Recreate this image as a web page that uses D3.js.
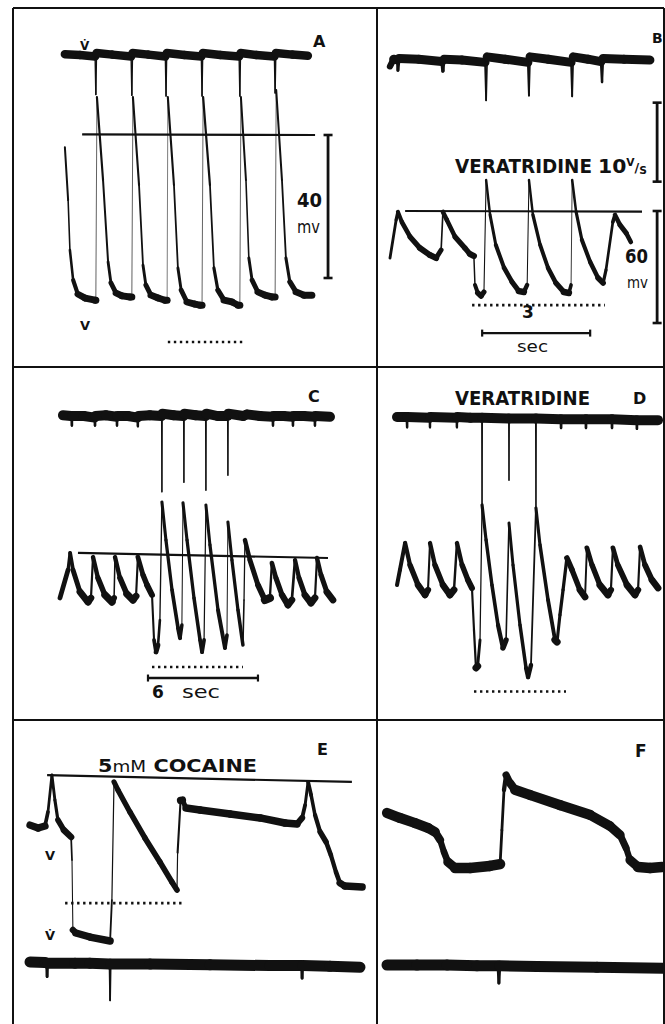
<!DOCTYPE html>
<html>
<head>
<meta charset="utf-8">
<script src="https://cdn.jsdelivr.net/npm/d3@7"></script>
<style>
  body { margin: 0; background: #fff; }
  svg { display: block; }
  text { font-family: "DejaVu Sans", "Liberation Sans", Arial, sans-serif; fill: #111; }
</style>
</head>
<body>
<div id="fig"></div>
<script>

// ---- values: t in sec, V in mV, dV/dt in V/s

// panel A
var aVolt = [[0.08,-3.4],[0.17,-18.2],[0.22,-32.2],[0.31,-40.6],[0.44,-44.5],[0.64,-45.6],[0.92,-46.2],
  [0.94,-46.2],[0.97,10.6],[1.14,-12.6],[1.28,-35.5],[1.36,-41.4],[1.5,-44.2],[1.67,-45],[1.89,-45.3],
  [1.94,-45.3],[1.97,10.6],[2.14,-14],[2.25,-36.4],[2.33,-42],[2.47,-44.8],[2.67,-45.6],[2.86,-46.2],
  [2.92,-46.2],[2.94,10.6],[3.11,-14],[3.22,-37.2],[3.31,-43.4],[3.47,-46.7],[3.69,-47.3],[3.83,-47.6],
  [3.89,-47.6],[3.92,10.6],[4.11,-14],[4.22,-37.2],[4.33,-43.4],[4.5,-46.2],[4.72,-46.7],[4.89,-47.6],
  [4.94,-47.6],[4.97,10.6],[5.11,-12.6],[5.19,-34.4],[5.28,-40.6],[5.44,-43.9],[5.64,-44.8],[5.83,-45.3],
  [5.92,-45.3],[5.95,12.6],[6.11,-12.6],[6.22,-34.4],[6.33,-41.1],[6.5,-43.9],[6.72,-44.8],[6.94,-44.8]];
var aDvdt = [[0.08,0.1],[0.5,0],[0.92,-0.2],[0.94,-5.0],[0.96,0.25],[1.4,0.05],[1.92,-0.2],[1.94,-5.1],[1.96,0.25],
  [2.4,0.05],[2.87,-0.2],[2.89,-5.2],[2.91,0.25],[3.4,0],[3.87,-0.2],[3.89,-5.2],[3.91,0.25],[4.4,0],
  [4.92,-0.2],[4.94,-5.2],[4.96,0.25],[5.4,0],[5.9,-0.2],[5.92,-4.8],[5.94,0.25],[6.4,0.05],[6.83,-0.1]];
var aZero = [[0.56,0.2],[7.03,0]];
var aDots = [2.94, 5.08, -57.9];

// panel B
var bVolt = [[0,-25.2],[0.17,-4.8],[0.22,-0.5],[0.33,-5.9],[0.56,-13.9],[0.83,-19.8],[1.11,-23.6],[1.28,-25.2],
  [1.42,-20.9],[1.47,-0.5],[1.58,-4.8],[1.81,-13.9],[2.08,-19.8],[2.22,-23],[2.33,-24.1],[2.36,-39.6],[2.44,-43.9],
  [2.53,-45.5],[2.61,-43.4],[2.67,16.6],[2.78,-2.1],[2.94,-18.2],[3.17,-30.5],[3.39,-38],[3.58,-42.9],[3.72,-43.4],
  [3.81,-39.6],[3.86,16.6],[3.97,-2.1],[4.17,-18.2],[4.39,-30.5],[4.61,-38.6],[4.83,-43.4],[4.97,-43.9],[5.03,-39.6],
  [5.06,16.6],[5.17,-0.5],[5.33,-15.5],[5.56,-27.3],[5.78,-35.9],[5.92,-38.6],[6.0,-31.6],[6.19,-5.9],[6.25,-2.1],
  [6.39,-7.5],[6.56,-11.8],[6.69,-16.6]];
var bDvdt = [[0,-0.8],[0.1,0.1],[0.2,0],[0.22,-1.3],[0.25,0.2],[0.8,0.1],[1.44,-0.2],[1.47,-1.4],[1.5,0.1],[2.0,0],
  [2.64,-0.3],[2.67,-5.1],[2.7,0.4],[3.2,0.1],[3.83,-0.3],[3.86,-4.5],[3.89,0.4],[4.4,0.1],[5.03,-0.3],[5.06,-4.6],
  [5.09,0.4],[5.5,0.1],[5.86,-0.2],[5.89,-2.8],[5.92,0.2],[6.5,0.1],[7.22,0]];
var bZero = [[0.42,0],[7.0,-0.3]];
var bDots = [2.28, 5.97, -50.4];

// panel C
var cVolt = [[0,-23],[0.44,-8],[0.55,1.1],[0.71,-8],[1.09,-19.8],[1.53,-25.2],[1.69,-23],[1.8,-1.1],[2.07,-12.3],
  [2.45,-21.4],[2.84,-25.2],[2.95,-23],[3.0,-1.1],[3.27,-12.3],[3.65,-20.9],[3.98,-24.1],[4.15,-22],[4.25,-1.1],
  [4.53,-10.7],[4.75,-16.1],[5.02,-21.4],[5.13,-45.5],[5.24,-52],[5.35,-48.2],[5.45,-34.8],[5.56,28.4],[5.78,8],
  [6.11,-18.7],[6.44,-39.1],[6.55,-44.5],[6.65,-37.5],[6.71,27.9],[6.93,8],[7.31,-23],[7.64,-45.5],[7.75,-52],
  [7.86,-45.5],[7.96,26.8],[8.18,5.4],[8.62,-29.5],[9.0,-49.8],[9.11,-42.9],[9.16,17.7],[9.38,-2.7],[9.71,-29.5],
  [9.98,-48.2],[10.04,-24.1],[10.09,8],[10.36,-2.7],[10.8,-16.1],[11.18,-24.1],[11.45,-23],[11.56,-4.3],[11.78,-12.3],
  [12.11,-21.4],[12.44,-26.8],[12.65,-24.1],[12.82,-2.7],[13.04,-12.3],[13.36,-21.4],[13.69,-25.7],[13.91,-23],
  [14.02,-1.6],[14.24,-10.7],[14.56,-19.8],[14.89,-24.1]];
var cDvdt = [[0.16,0.1],[0.6,0],[0.63,-0.2],[0.65,-1.2],[0.67,0],[1.3,0],[1.89,-0.2],[1.91,-1.2],[1.93,0],[2.5,0.1],
  [3.09,-0.1],[3.11,-1.2],[3.13,0],[3.7,0],[4.23,-0.2],[4.25,-1.3],[4.27,0],[4.9,0.1],[5.54,0],[5.56,-9.6],[5.58,0.3],
  [6.2,0.1],[6.74,0],[6.76,-8.4],[6.78,0.3],[7.4,0.1],[7.94,0],[7.96,-9.4],[7.98,0.3],[8.6,0],[9.14,0],[9.16,-7.5],
  [9.18,0.3],[10.0,0],[10.2,0.2],[10.9,0],[11.6,-0.1],[11.62,-1.2],[11.64,0],[12.2,0],[12.69,-0.1],[12.71,-1.2],
  [12.73,0],[13.3,0],[13.89,-0.1],[13.91,-1.2],[13.93,0],[14.73,-0.1]];
var cZero = [[0.98,1.1],[14.62,-1.6]];
var cDots = [5.02, 9.98, -60];

// panel D
var dVolt = [[0,-23.6],[0.16,-15.5],[0.44,-1.1],[0.71,-12.9],[1.15,-23.6],[1.53,-28.9],[1.69,-26.2],[1.8,-1.1],
  [2.07,-12.9],[2.51,-23.6],[2.89,-28.9],[3.11,-26.2],[3.27,-1.1],[3.55,-12.9],[3.87,-20.9],[4.09,-25.2],[4.2,-47.7],
  [4.31,-68],[4.4,-67],[4.53,-53],[4.64,19.3],[4.86,0.5],[5.18,-23.6],[5.51,-45],[5.78,-57.3],[5.95,-53],[6.11,9.6],
  [6.33,-12.9],[6.71,-45],[7.04,-68],[7.15,-72.9],[7.31,-66.4],[7.58,17.7],[7.8,-2.1],[8.24,-31.6],[8.62,-53],
  [8.73,-54.1],[8.89,-39.6],[9.06,-26.2],[9.27,-9.1],[9.55,-15.5],[9.98,-26.2],[10.26,-30],[10.36,-3.7],[10.64,-12.9],
  [11.07,-23.6],[11.51,-28.9],[11.67,-26.2],[11.78,-3.7],[12.05,-12.9],[12.55,-23.6],[12.98,-28.9],[13.15,-26.2],
  [13.26,-3.2],[13.53,-12.9],[13.91,-20.9],[14.24,-25.2]];
var dDvdt = [[0,0],[0.5,0],[0.53,-0.2],[0.55,-1.3],[0.57,0],[1.78,-0.1],[1.8,-1.3],[1.82,0],[3.25,-0.1],[3.27,-1.3],
  [3.29,0],[4.0,-0.1],[4.62,-0.1],[4.64,-11.1],[4.66,-0.1],[6.09,-0.2],[6.11,-8],[6.13,-0.2],[7.56,-0.2],[7.58,-12],
  [7.6,-0.2],[8.93,-0.3],[8.95,-1.4],[8.97,-0.3],[10.29,-0.3],[10.31,-1.4],[10.33,-0.3],[11.71,-0.3],[11.73,-1.4],
  [11.75,-0.3],[13.07,-0.4],[13.09,-1.5],[13.11,-0.4],[14.24,-0.4]];
var dDots = [4.2, 9.22, -80.6];

// panel E (5 mM cocaine)
var eVolt = [[0,-25.2],[0.27,-26.8],[0.5,-25.7],[0.6,-18.2],[0.73,1.6],[0.83,-11.8],[0.93,-22.5],[1.13,-27.9],
  [1.37,-31.6],[1.4,-43.9],[1.43,-81.4],[1.53,-83],[2.0,-85.2],[2.67,-87.3],[2.73,-65.4],[2.8,-2.1],[2.93,-6.4],
  [3.33,-18.2],[3.83,-32.1],[4.33,-45],[4.73,-55.7],[4.9,-60],[4.92,-40],[5.02,-12],[5.08,-11.8],[5.2,-16.1],
  [5.67,-17.1],[6.67,-19.3],[7.67,-21.4],[8.5,-24.1],[8.9,-24.6],[9.07,-21.4],[9.17,-14.5],[9.27,-2.1],[9.37,-9.1],
  [9.5,-19.8],[9.67,-28.9],[9.87,-34.3],[10.03,-41.3],[10.2,-50.4],[10.33,-56.2],[10.5,-57.9],[11.07,-58.4]];
var eDvdt = [[0,0.25],[0.5,0.2],[0.55,0.1],[0.57,-1.6],[0.59,0.1],[1.5,0.1],[2.0,0.1],[2.65,0],[2.67,-4.6],
  [2.69,0],[4,0],[6,-0.1],[8,-0.2],[9.05,-0.2],[9.07,-1.8],[9.09,-0.2],[10,-0.3],[11,-0.4]];
var eZero = [[0.57,1.5],[10.73,-2.1]];
var eDots = [1.17, 5.07, -67];

// panel F
var fVolt = [[0,-18.7],[0.43,-21.4],[0.93,-24.1],[1.37,-26.8],[1.6,-28.9],[1.77,-33.2],[1.9,-39.6],[2.03,-45],
  [2.27,-48.2],[2.77,-48.2],[3.43,-47.1],[3.77,-46.1],[3.83,-27.9],[3.9,-6.4],[3.97,1.6],[4.1,-2.7],[4.27,-6.4],
  [4.77,-9.1],[5.77,-14.5],[6.77,-19.8],[7.43,-25.7],[7.77,-30.5],[7.97,-37.5],[8.1,-43.9],[8.37,-47.7],
  [8.77,-48.2],[9.17,-47.7]];
var fDvdt = [[0,0],[1,0],[2,0],[3,-0.1],[3.7,-0.1],[3.73,-2.3],[3.76,-0.1],[5,-0.2],[7,-0.3],[9.2,-0.4]];

// calibrations and labels
var panelLetters = ['A', 'B', 'C', 'D', 'E', 'F'];
var calMvLabels = ['40', '60'];
var calMv = [40, 60];
var calVs = 10;
var timeBarSec = [3, 6];


// ---- layout (pixels)
var width = 665, height = 1024;
var ink = '#111';

var svg = d3.select('#fig').append('svg')
    .attr('width', width)
    .attr('height', height);

// sweep speed px/s, zero line y, px per mV, dV/dt baseline y, px per V/s, max beam widths
var layout = {
    A: {x0: 62,  pxs: 36,    zeroY: 135, pxmv: 3.575, dvY: 55,  pxvs: 7.9, wV: 7,   wDv: 8.5},
    B: {x0: 390, pxs: 36,    zeroY: 211, pxmv: 1.867, dvY: 60,  pxvs: 7.9, wV: 6.5, wDv: 9},
    C: {x0: 60,  pxs: 18.33, zeroY: 555, pxmv: 1.867, dvY: 416, pxvs: 7.9, wV: 8.5, wDv: 10},
    D: {x0: 397, pxs: 18.33, zeroY: 541, pxmv: 1.867, dvY: 417, pxvs: 7.9, wV: 8.5, wDv: 10},
    E: {x0: 30,  pxs: 30,    zeroY: 778, pxmv: 1.867, dvY: 964, pxvs: 7.9, wV: 7.5, wDv: 11},
    F: {x0: 387, pxs: 30,    zeroY: 778, pxmv: 1.867, dvY: 965, pxvs: 7.9, wV: 10.5, wDv: 11}
};

function makeScales(p){
    var x = d3.scaleLinear().domain([0, 10]).range([p.x0, p.x0 + 10 * p.pxs]);
    var y = d3.scaleLinear().domain([0, -60]).range([p.zeroY, p.zeroY + 60 * p.pxmv]);
    var dv = d3.scaleLinear().domain([0, -10]).range([p.dvY, p.dvY + 10 * p.pxvs]);
    return {x: x, y: y, dv: dv, v0: p.pxs};
}

// oscilloscope beam: fast parts of the trace come out thin, slow parts thick
function drawTrace(g, data, xs, ys, v0, wMax, wMin){
    var pts = data.map(function(d){
        return {t: d[0], x: xs(d[0]), y: ys(d[1])};
    });
    g.append('g').selectAll('line')
        .data(d3.pairs(pts))
        .enter()
        .append('line')
            .attr('x1', function(d){ return d[0].x; })
            .attr('y1', function(d){ return d[0].y; })
            .attr('x2', function(d){ return d[1].x; })
            .attr('y2', function(d){ return d[1].y; })
            .attr('stroke', ink)
            .attr('stroke-linecap', 'round')
            .attr('stroke-width', function(d){
                var len = Math.hypot(d[1].x - d[0].x, d[1].y - d[0].y);
                var dt = Math.max(d[1].t - d[0].t, 0.001);
                var speed = Math.max(len / dt, v0);
                return Math.max(wMin, wMax * Math.pow(v0 / speed, 0.45));
            });
}

function drawRefLine(g, data, s){
    g.append('path')
        .datum(data)
        .attr('d', d3.line()
            .x(function(d){ return s.x(d[0]); })
            .y(function(d){ return s.y(d[1]); }))
        .attr('fill', 'none')
        .attr('stroke', ink)
        .attr('stroke-width', 2.2);
}

function drawDots(g, span, s){
    g.append('line')
        .attr('x1', s.x(span[0]))
        .attr('x2', s.x(span[1]))
        .attr('y1', s.y(span[2]))
        .attr('y2', s.y(span[2]))
        .attr('stroke', ink)
        .attr('stroke-width', 2.6)
        .attr('stroke-dasharray', '2.4,3.6');
}

// vertical calibration bar with end caps
function vBar(g, x, y1, y2){
    g.append('line').attr('x1', x).attr('x2', x).attr('y1', y1).attr('y2', y2)
        .attr('stroke', ink).attr('stroke-width', 2.8);
    [y1, y2].forEach(function(y){
        g.append('line').attr('x1', x - 4.5).attr('x2', x + 4.5).attr('y1', y).attr('y2', y)
            .attr('stroke', ink).attr('stroke-width', 2.6);
    });
}

// horizontal time bar with end caps
function hBar(g, x1, x2, y){
    g.append('line').attr('x1', x1).attr('x2', x2).attr('y1', y).attr('y2', y)
        .attr('stroke', ink).attr('stroke-width', 2.4);
    [x1, x2].forEach(function(x){
        g.append('line').attr('x1', x).attr('x2', x).attr('y1', y - 3.5).attr('y2', y + 3.5)
            .attr('stroke', ink).attr('stroke-width', 2.2);
    });
}

function label(g, txt, x, y, size, bold, len){
    var t = g.append('text')
        .attr('x', x)
        .attr('y', y)
        .attr('font-size', size)
        .attr('font-weight', bold ? 'bold' : 'normal')
        .text(txt);
    if (len) t.attr('textLength', len).attr('lengthAdjust', 'spacingAndGlyphs');
    return t;
}


// ---- frames
var frame = svg.append('g')
    .attr('stroke', ink)
    .attr('stroke-width', 2);
[[13, 8, 13, 1030], [377, 8, 377, 1030], [664, 8, 664, 1030],
 [13, 8, 664, 8], [13, 367, 664, 367], [13, 720, 664, 720]].forEach(function(l){
    frame.append('line').attr('x1', l[0]).attr('y1', l[1]).attr('x2', l[2]).attr('y2', l[3]);
});


//**** A
var sA = makeScales(layout.A);
var gA = svg.append('g');
drawRefLine(gA, aZero, sA);
drawTrace(gA, aDvdt, sA.x, sA.dv, sA.v0, layout.A.wDv, 1.2);
drawTrace(gA, aVolt, sA.x, sA.y, sA.v0, layout.A.wV, 0.35);
drawDots(gA, aDots, sA);
vBar(gA, sA.x(7.39), sA.y(0), sA.y(-calMv[0]));
label(gA, 'V\u0307', 80, 50, 12, true);
label(gA, panelLetters[0], 313, 47, 16, true);
label(gA, calMvLabels[0], 297, 207, 19, true, 25);
label(gA, 'mv', 297, 233, 17, false, 23);
label(gA, 'V', 80, 330, 13, true);

// B ---------------------
var sB = makeScales(layout.B);
var gB = svg.append('g');
drawRefLine(gB, bZero, sB);
drawTrace(gB, bDvdt, sB.x, sB.dv, sB.v0, layout.B.wDv, 1.2);
drawTrace(gB, bVolt, sB.x, sB.y, sB.v0, layout.B.wV, 0.8);
drawDots(gB, bDots, sB);
vBar(gB, sB.x(7.42), sB.dv(-5.4), sB.dv(-5.4 - calVs));
vBar(gB, sB.x(7.42), sB.y(0), sB.y(-calMv[1]));
hBar(gB, sB.x(2.56), sB.x(2.56 + timeBarSec[0]), sB.y(-65.4));
label(gB, panelLetters[1], 652, 43, 14, true);
label(gB, 'VERATRIDINE', 455, 173, 19, true, 137);
var units = label(gB, '10', 598, 173, 19, true);
units.append('tspan').attr('font-size', 10).attr('dy', -7).text('V');
units.append('tspan').attr('font-size', 12).attr('dy', 6).text('/');
units.append('tspan').attr('font-size', 10).attr('dy', 2).text('S');
units.attr('textLength', 49).attr('lengthAdjust', 'spacingAndGlyphs');
label(gB, calMvLabels[1], 625, 263, 19, true, 23);
label(gB, 'mv', 627, 288, 16, false, 21);
label(gB, String(timeBarSec[0]), 522, 318, 17, true);
label(gB, 'sec', 517, 352, 16, false, 31);

// C ---------------------
var sC = makeScales(layout.C);
var gC = svg.append('g');
drawRefLine(gC, cZero, sC);
drawTrace(gC, cDvdt, sC.x, sC.dv, sC.v0, layout.C.wDv, 1.2);
drawTrace(gC, cVolt, sC.x, sC.y, sC.v0, layout.C.wV, 0.8);
drawDots(gC, cDots, sC);
hBar(gC, sC.x(4.8), sC.x(4.8 + timeBarSec[1]), sC.y(-65.9));
label(gC, panelLetters[2], 308, 402, 16, true);
label(gC, String(timeBarSec[1]), 152, 698, 17, true);
label(gC, 'sec', 182, 698, 17, false, 38);

// D ---------------------
var sD = makeScales(layout.D);
var gD = svg.append('g');
drawTrace(gD, dDvdt, sD.x, sD.dv, sD.v0, layout.D.wDv, 1.2);
drawTrace(gD, dVolt, sD.x, sD.y, sD.v0, layout.D.wV, 0.8);
drawDots(gD, dDots, sD);
label(gD, 'VERATRIDINE', 455, 405, 19, true, 135);
label(gD, panelLetters[3], 633, 404, 16, true);

// E ---------------------
var sE = makeScales(layout.E);
var gE = svg.append('g');
drawRefLine(gE, eZero, sE);
drawTrace(gE, eVolt, sE.x, sE.y, sE.v0, layout.E.wV, 0.8);
drawTrace(gE, eDvdt, sE.x, sE.dv, sE.v0, layout.E.wDv, 1.2);
drawDots(gE, eDots, sE);
var cocaine = label(gE, '5', 98, 772, 17, true);
cocaine.append('tspan').attr('font-weight', 'normal').attr('font-size', 15).text('mM');
cocaine.append('tspan').attr('dx', 6).text('COCAINE');
cocaine.attr('textLength', 159).attr('lengthAdjust', 'spacingAndGlyphs');
label(gE, panelLetters[4], 317, 755, 16, true);
label(gE, 'V', 45, 860, 13, true);
label(gE, 'V\u0307', 45, 940, 13, true);

// F ---------------------
var sF = makeScales(layout.F);
var gF = svg.append('g');
drawTrace(gF, fVolt, sF.x, sF.y, sF.v0, layout.F.wV, 0.8);
drawTrace(gF, fDvdt, sF.x, sF.dv, sF.v0, layout.F.wDv, 1.2);
label(gF, panelLetters[5], 635, 757, 17, true);

</script>
</body>
</html>
